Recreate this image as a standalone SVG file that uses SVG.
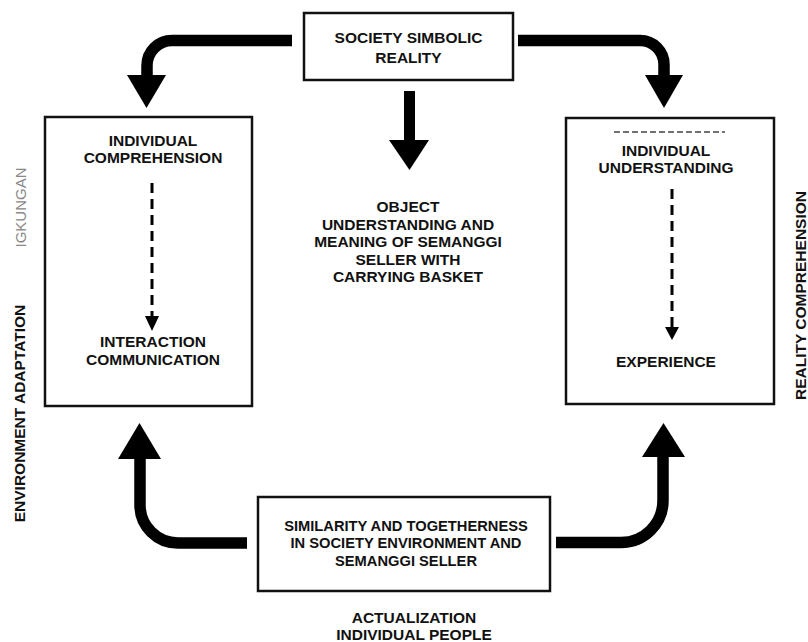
<svg xmlns="http://www.w3.org/2000/svg" width="808" height="642" viewBox="0 0 808 642">
<style>
.box{fill:#fff;stroke:#111;stroke-width:2.5}
.t{font-family:"Liberation Sans",Arial,sans-serif;font-weight:bold;font-size:15.5px;fill:#111;text-anchor:middle}
.thick{fill:none;stroke:#000;stroke-width:11.5}
.head{fill:#000}
.dash{fill:none;stroke:#000;stroke-width:3;stroke-dasharray:10 6}
</style>
<rect width="808" height="642" fill="#fff"/>
<g id="society">
  <rect class="box" x="304" y="13" width="209" height="67"/>
  <text class="t" x="408.5" y="43">SOCIETY SIMBOLIC</text>
  <text class="t" x="408.5" y="63">REALITY</text>
</g>
<g id="left-box">
  <rect class="box" x="45" y="117" width="207" height="289"/>
  <text class="t" x="153" y="146">INDIVIDUAL</text>
  <text class="t" x="153" y="163">COMPREHENSION</text>
  <text class="t" x="153" y="347">INTERACTION</text>
  <text class="t" x="153" y="365">COMMUNICATION</text>
</g>
<g id="right-box">
  <rect class="box" x="566" y="118" width="208" height="286"/>
  <line x1="614" y1="132" x2="725" y2="132" stroke="#444" stroke-width="1.5" stroke-dasharray="6 3"/>
  <text class="t" x="666" y="156">INDIVIDUAL</text>
  <text class="t" x="666" y="173">UNDERSTANDING</text>
  <text class="t" x="666" y="367">EXPERIENCE</text>
</g>
<g id="object">
  <text class="t" x="408" y="212">OBJECT</text>
  <text class="t" x="408" y="230">UNDERSTANDING AND</text>
  <text class="t" x="408" y="247">MEANING OF SEMANGGI</text>
  <text class="t" x="408" y="265">SELLER WITH</text>
  <text class="t" x="408" y="282">CARRYING BASKET</text>
</g>
<g id="bottom-box">
  <rect class="box" x="258" y="497" width="292" height="94"/>
  <text class="t" x="406" y="531" style="font-size:14.7px">SIMILARITY AND TOGETHERNESS</text>
  <text class="t" x="406" y="548" style="font-size:14.7px">IN SOCIETY ENVIRONMENT AND</text>
  <text class="t" x="406" y="566" style="font-size:14.7px">SEMANGGI SELLER</text>
</g>
<g id="actualization">
  <text class="t" x="414" y="623">ACTUALIZATION</text>
  <text class="t" x="414" y="640">INDIVIDUAL PEOPLE</text>
</g>
<g id="side-labels">
  <text class="t" transform="translate(25,413.5) rotate(-90)">ENVIRONMENT ADAPTATION</text>
  <text transform="translate(26,207.5) rotate(-90)" style="font-family:'Liberation Sans',Arial,sans-serif;font-size:15px;fill:#888;text-anchor:middle">IGKUNGAN</text>
  <text class="t" transform="translate(806,295.5) rotate(-90)">REALITY COMPREHENSION</text>
</g>
<g id="connectors">
  <path class="thick" d="M292,40.5 H172 A25,25 0 0 0 147,65.5 V76"/>
  <polygon class="head" points="127,75 166,75 146.5,108"/>
  <path class="thick" d="M518,40.5 H640 A24,24 0 0 1 664,64.5 V76"/>
  <polygon class="head" points="645,75 683,75 664,108"/>
  <rect x="404" y="91" width="11" height="50" fill="#000"/>
  <polygon class="head" points="389,140 429,140 409.5,170"/>
  <path class="thick" d="M247,543 H178 A38,38 0 0 1 140,505 V458"/>
  <polygon class="head" points="118,459 161,459 139.5,423"/>
  <path class="thick" d="M556,542.5 H621 A42,42 0 0 0 663,500.5 V456"/>
  <polygon class="head" points="642,457 685,457 663.5,423"/>
  <line class="dash" x1="152" y1="183" x2="152" y2="317"/>
  <polygon class="head" points="145,316 159,316 152,331"/>
  <line class="dash" x1="672" y1="189" x2="672" y2="328"/>
  <polygon class="head" points="665,327 679,327 672,340"/>
</g>
</svg>
